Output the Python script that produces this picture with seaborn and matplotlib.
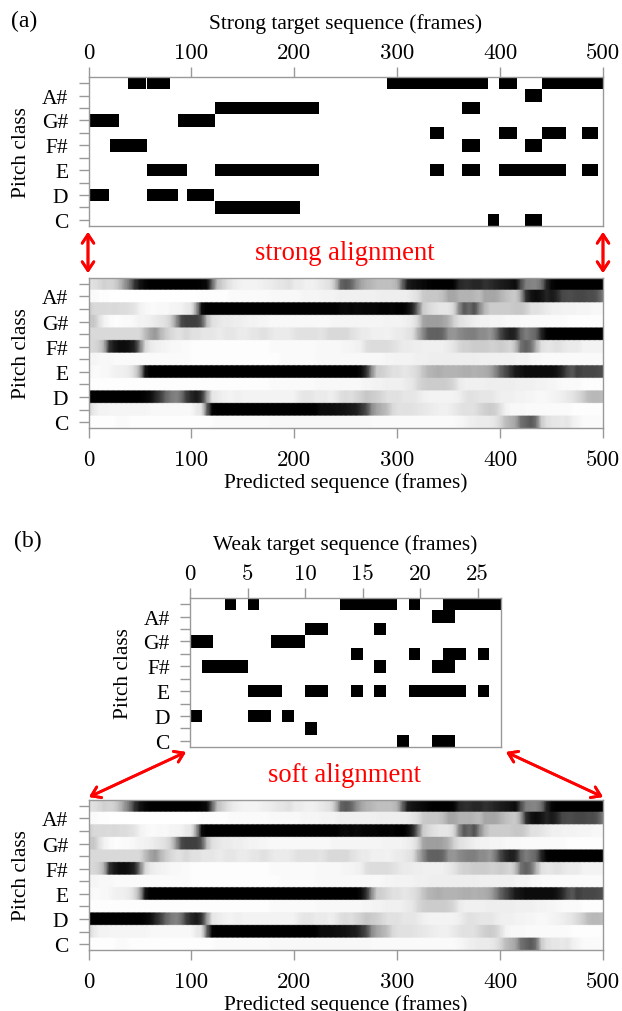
import numpy as np
import pandas as pd
import matplotlib
matplotlib.use('Agg')
import matplotlib.pyplot as plt
import seaborn as sns

# pitch classes, top row first
pitches = ['B', 'A#', 'A', 'G#', 'G', 'F#', 'F', 'E', 'D#', 'D', 'C#', 'C']
shown_pitches = ['A#', 'G#', 'F#', 'E', 'D', 'C']

# strong target: (start frame, end frame) of the active notes
strong_b = [(38, 56), (57, 79), (290, 388), (399, 416), (441, 500)]
strong_as = [(424, 441)]
strong_a = [(123, 224), (363, 380)]
strong_gs = [(0, 30), (87, 123)]
strong_g = [(332, 345), (399, 416), (441, 464), (480, 495)]
strong_fs = [(21, 57), (363, 380), (424, 441)]
strong_f = []
strong_e = [(57, 96), (123, 224), (332, 345), (363, 380), (399, 464), (480, 495)]
strong_ds = []
strong_d = [(0, 20), (57, 87), (96, 122)]
strong_cs = [(123, 206)]
strong_c = [(388, 399), (424, 441)]

# weak target: same thing, on 27 frames
weak_b = [(3, 4), (5, 6), (13, 18), (19, 20), (22, 27)]
weak_as = [(21, 23)]
weak_a = [(10, 12), (16, 17)]
weak_gs = [(0, 2), (7, 10)]
weak_g = [(14, 15), (19, 20), (22, 24), (25, 26)]
weak_fs = [(1, 5), (16, 17), (21, 23)]
weak_f = []
weak_e = [(5, 8), (10, 12), (14, 15), (16, 17), (19, 24), (25, 26)]
weak_ds = []
weak_d = [(0, 1), (5, 7), (8, 9)]
weak_cs = [(10, 11)]
weak_c = [(18, 19), (21, 23)]

strong_notes = [strong_b, strong_as, strong_a, strong_gs, strong_g, strong_fs,
                strong_f, strong_e, strong_ds, strong_d, strong_cs, strong_c]
weak_notes = [weak_b, weak_as, weak_a, weak_gs, weak_g, weak_fs,
              weak_f, weak_e, weak_ds, weak_d, weak_cs, weak_c]

# predicted darkness (percent), one value every 5 frames from 0 to 500
pred_frames = list(range(0, 505, 5))
pred_b = [12, 12, 14, 18, 16, 18, 26, 40, 55, 80,
          92, 97, 100, 100, 100, 100, 100, 100, 100, 100,
          100, 100, 98, 96, 60, 25, 18, 12, 8, 6,
          5, 5, 5, 5, 6, 7, 8, 10, 10, 12,
          8, 8, 6, 6, 6, 8, 10, 12, 25, 60,
          65, 60, 45, 35, 30, 28, 25, 25, 25, 25,
          30, 60, 88, 92, 94, 96, 98, 100, 100, 100,
          100, 98, 85, 82, 82, 85, 85, 80, 82, 85,
          88, 90, 92, 95, 70, 50, 48, 48, 55, 85,
          97, 100, 100, 100, 100, 100, 100, 100, 100, 100, 100]
pred_as = [2, 2, 1, 1, 0, 0, 0, 0, 0, 0,
           0, 0, 0, 0, 0, 0, 0, 0, 0, 0,
           0, 0, 1, 1, 1, 1, 1, 1, 2, 2,
           2, 2, 2, 2, 2, 2, 3, 3, 3, 3,
           3, 3, 4, 4, 4, 4, 5, 5, 5, 6,
           6, 6, 6, 6, 6, 6, 6, 7, 7, 7,
           7, 7, 7, 9, 12, 20, 22, 22, 22, 25,
           35, 35, 30, 30, 30, 28, 25, 35, 35, 35,
           30, 25, 22, 20, 35, 80, 92, 95, 92, 85,
           90, 85, 72, 70, 70, 72, 72, 70, 70, 65, 50]
pred_a = [18, 15, 15, 15, 14, 15, 14, 14, 12, 10,
          5, 3, 2, 2, 3, 2, 4, 4, 5, 8,
          10, 40, 95, 100, 100, 100, 100, 100, 100, 100,
          100, 100, 100, 100, 100, 100, 100, 100, 100, 100,
          100, 100, 100, 100, 100, 100, 100, 100, 100, 97,
          96, 98, 96, 97, 98, 98, 98, 99, 99, 98,
          100, 100, 95, 85, 55, 20, 15, 12, 10, 10,
          10, 15, 45, 65, 58, 68, 45, 28, 20, 20,
          20, 20, 20, 22, 22, 18, 12, 12, 10, 8,
          6, 6, 5, 5, 5, 4, 4, 4, 3, 3, 3]
pred_gs = [20, 22, 12, 5, 2, 1, 1, 2, 2, 3,
           5, 5, 6, 8, 10, 12, 18, 40, 70, 75,
           75, 75, 65, 25, 12, 10, 8, 8, 7, 7,
           6, 5, 5, 4, 4, 3, 3, 3, 3, 3,
           3, 3, 3, 3, 3, 3, 3, 3, 4, 4,
           4, 4, 4, 4, 4, 4, 4, 4, 5, 5,
           5, 5, 6, 8, 15, 35, 38, 38, 38, 35,
           30, 18, 12, 10, 8, 6, 5, 5, 4, 4,
           4, 3, 3, 3, 2, 2, 2, 2, 2, 2,
           2, 2, 2, 1, 1, 1, 1, 1, 1, 1, 1]
pred_g = [15, 15, 15, 15, 15, 15, 15, 15, 15, 15,
          15, 25, 35, 40, 28, 20, 15, 12, 12, 15,
          12, 12, 10, 10, 10, 8, 8, 10, 10, 8,
          8, 8, 10, 10, 12, 10, 8, 8, 8, 8,
          10, 12, 12, 12, 12, 10, 12, 15, 15, 15,
          15, 12, 10, 8, 8, 6, 6, 6, 5, 6,
          8, 8, 10, 12, 30, 45, 60, 62, 62, 58,
          42, 40, 45, 48, 50, 50, 45, 45, 40, 50,
          70, 82, 88, 85, 60, 50, 55, 60, 85, 98,
          100, 100, 100, 100, 100, 100, 100, 100, 100, 100, 100]
pred_fs = [15, 15, 18, 30, 80, 90, 95, 95, 92, 85,
           50, 15, 8, 6, 5, 4, 3, 3, 2, 2,
           1, 1, 1, 1, 1, 1, 1, 1, 1, 1,
           1, 1, 1, 1, 1, 1, 2, 2, 2, 2,
           2, 2, 2, 2, 2, 3, 3, 3, 3, 3,
           4, 4, 5, 6, 12, 14, 14, 14, 14, 12,
           10, 8, 8, 7, 7, 6, 6, 6, 6, 6,
           8, 10, 15, 18, 18, 20, 20, 20, 18, 18,
           20, 18, 15, 25, 55, 62, 55, 30, 12, 10,
           10, 12, 10, 8, 8, 8, 5, 5, 5, 5, 5]
pred_f = [4, 4, 3, 3, 3, 2, 2, 2, 2, 2,
          2, 2, 2, 2, 2, 2, 2, 2, 2, 2,
          1, 1, 1, 1, 1, 1, 1, 1, 1, 1,
          1, 1, 1, 1, 1, 1, 1, 1, 2, 2,
          2, 2, 2, 2, 2, 3, 3, 3, 3, 3,
          3, 3, 3, 3, 3, 3, 3, 3, 4, 4,
          5, 5, 5, 5, 6, 6, 6, 7, 7, 7,
          7, 7, 7, 7, 7, 7, 6, 6, 6, 6,
          6, 6, 6, 5, 5, 5, 3, 3, 2, 2,
          2, 2, 2, 2, 2, 2, 2, 2, 2, 2, 2]
pred_e = [3, 2, 2, 3, 3, 5, 6, 6, 8, 15,
          35, 92, 100, 100, 100, 100, 100, 100, 100, 100,
          100, 100, 100, 100, 100, 100, 100, 100, 100, 100,
          100, 100, 100, 100, 100, 100, 100, 100, 100, 100,
          100, 100, 100, 100, 100, 100, 100, 100, 100, 100,
          100, 100, 100, 95, 80, 45, 20, 18, 15, 12,
          12, 10, 10, 12, 15, 22, 28, 30, 32, 30,
          30, 30, 30, 32, 32, 30, 32, 32, 35, 45,
          60, 70, 80, 90, 92, 95, 95, 95, 95, 95,
          95, 92, 85, 72, 65, 75, 72, 72, 72, 70, 70]
pred_ds = [1, 1, 1, 1, 1, 1, 1, 1, 1, 1,
           1, 1, 1, 1, 1, 1, 1, 1, 1, 1,
           1, 1, 1, 1, 1, 1, 1, 1, 1, 1,
           1, 1, 1, 1, 1, 1, 2, 2, 2, 2,
           2, 2, 2, 2, 2, 3, 3, 3, 3, 3,
           3, 3, 3, 3, 4, 4, 5, 5, 6, 6,
           6, 6, 8, 9, 15, 18, 20, 20, 20, 20,
           18, 15, 8, 6, 6, 6, 6, 6, 7, 7,
           7, 7, 7, 6, 6, 6, 6, 5, 5, 4,
           4, 3, 2, 2, 2, 2, 1, 1, 1, 1, 1]
pred_d = [100, 100, 100, 100, 100, 100, 100, 100, 100, 100,
          100, 98, 95, 85, 75, 60, 52, 48, 55, 75,
          85, 90, 80, 40, 10, 8, 6, 5, 5, 6,
          5, 5, 5, 5, 5, 5, 5, 5, 5, 5,
          5, 8, 10, 10, 8, 8, 8, 6, 8, 12,
          14, 12, 15, 18, 22, 20, 18, 15, 12, 12,
          12, 10, 10, 10, 8, 6, 5, 5, 5, 5,
          5, 5, 6, 9, 12, 11, 10, 10, 10, 8,
          6, 6, 6, 5, 5, 4, 4, 3, 3, 3,
          4, 5, 6, 8, 10, 14, 18, 25, 28, 28, 25]
pred_cs = [15, 8, 5, 5, 4, 4, 4, 4, 4, 4,
           4, 4, 3, 3, 3, 3, 3, 3, 3, 3,
           3, 8, 10, 60, 98, 100, 100, 100, 100, 100,
           100, 100, 100, 100, 100, 100, 100, 100, 100, 100,
           100, 100, 100, 100, 100, 95, 95, 95, 94, 93,
           92, 90, 88, 80, 70, 45, 35, 30, 25, 15,
           12, 12, 12, 11, 10, 9, 8, 7, 6, 6,
           6, 8, 10, 12, 12, 12, 15, 18, 20, 18,
           12, 5, 3, 3, 3, 2, 2, 2, 2, 2,
           2, 2, 2, 2, 1, 1, 1, 1, 1, 1, 1]
pred_c = [1, 1, 1, 1, 1, 1, 2, 2, 1, 1,
          1, 1, 1, 1, 1, 1, 1, 1, 1, 1,
          1, 1, 1, 1, 1, 2, 2, 2, 2, 2,
          2, 2, 2, 2, 2, 2, 3, 3, 3, 3,
          3, 3, 3, 3, 3, 3, 3, 3, 3, 3,
          3, 3, 3, 3, 3, 2, 2, 2, 2, 2,
          2, 2, 2, 2, 2, 2, 2, 2, 2, 2,
          2, 2, 3, 4, 6, 7, 8, 8, 8, 10,
          15, 25, 30, 35, 55, 60, 65, 55, 20, 12,
          10, 10, 8, 10, 6, 4, 2, 2, 2, 2, 1]

pred_rows = [pred_b, pred_as, pred_a, pred_gs, pred_g, pred_fs,
             pred_f, pred_e, pred_ds, pred_d, pred_cs, pred_c]


def notes_to_df(notes, n_frames):
    roll = np.zeros((len(pitches), n_frames))
    for i, row in enumerate(notes):
        for start, end in row:
            roll[i, start:end] = 1
    return pd.DataFrame(roll, index=pitches)


# figure pixels -> axes rectangle
W, H = 622, 1012
def make_ax(x0, x1, y0, y1):
    return fig.add_axes([x0 / W, 1 - y1 / H, (x1 - x0) / W, (y1 - y0) / H])


def style_ax(ax, xticks, xlabels, yticks, top=False, xlabel=''):
    ax.set_xticks(xticks)
    ax.set_xticklabels(xlabels, rotation=0, fontsize=16.5, family='cmr10')
    ax.set_yticks(yticks)
    labels = [p if p in shown_pitches else '' for p in pitches]
    ax.set_yticklabels(labels, rotation=0, fontsize=15.5)
    ax.tick_params(axis='x', length=7.5, width=1, color='#999999', labelcolor='black',
                   pad=3 if top else 8,
                   top=top, bottom=not top, labeltop=top, labelbottom=not top)
    ax.tick_params(axis='y', length=7.5, width=1, color='#999999', labelcolor='black',
                   pad=7, left=True)
    ax.set_xlabel(xlabel, fontsize=15.4, color='black')
    ax.set_ylabel('Pitch class', fontsize=15.4, color='black')
    box = ax.get_position()
    ax_w, ax_h = box.width * W, box.height * H
    ax.yaxis.set_label_coords(-57 / ax_w, 0.5)
    if top:
        ax.xaxis.set_label_position('top')
        ax.xaxis.set_label_coords(0.5, 1 + 49 / ax_h)
    else:
        ax.xaxis.set_label_coords(0.5, -44 / ax_h)
    for s in ax.spines.values():
        s.set_visible(True)
        s.set_color('#999999')
        s.set_linewidth(1)


def draw_target(ax, notes, n_frames, xvals, xlabel):
    sns.heatmap(notes_to_df(notes, n_frames), ax=ax, cmap='gray_r', vmin=0, vmax=1,
                cbar=False, xticklabels=False, yticklabels=False)
    style_ax(ax, xvals, [str(v) for v in xvals], np.arange(12) + 0.5, top=True, xlabel=xlabel)
    ax.set_xlim(0, n_frames)
    ax.set_ylim(12, 0)


def draw_predicted(ax):
    # each row repeated so the gouraud shading only blends along the time axis
    rep = 12
    values = np.repeat(np.array(pred_rows, dtype=float) / 100, rep, axis=0)
    sns.heatmap(values, ax=ax, cmap='gray_r', vmin=0, vmax=1, cbar=False,
                xticklabels=False, yticklabels=False, shading='gouraud')
    xvals = [0, 100, 200, 300, 400, 500]
    style_ax(ax, [pred_frames.index(v) for v in xvals], [str(v) for v in xvals],
             (np.arange(12) + 0.5) * rep - 0.5, xlabel='Predicted sequence (frames)')
    ax.set_xlim(0, len(pred_frames) - 1)
    ax.set_ylim(12 * rep - 1, 0)


def arrow(x0, y0, x1, y1):
    fig.add_artist(plt.annotate('', xy=(x1 / W, 1 - y1 / H), xytext=(x0 / W, 1 - y0 / H),
                                xycoords='figure fraction', textcoords='figure fraction',
                                arrowprops=dict(arrowstyle='<->,head_length=0.45,head_width=0.3',
                                                color='#ff0000', lw=2,
                                                mutation_scale=14, shrinkA=0, shrinkB=0)))


sns.set_style('ticks')
plt.rcParams['font.family'] = ['Liberation Serif', 'DejaVu Serif']
plt.rcParams['axes.unicode_minus'] = False
plt.rcParams['text.color'] = 'black'

fig = plt.figure(figsize=(W / 100, H / 100), dpi=100)

ax1 = make_ax(88.5, 603, 78, 227)
draw_target(ax1, strong_notes, 500, [0, 100, 200, 300, 400, 500], 'Strong target sequence (frames)')
ax2 = make_ax(88.5, 603, 279, 429)
draw_predicted(ax2)
ax3 = make_ax(190, 500.5, 599, 748)
draw_target(ax3, weak_notes, 27, [0, 5, 10, 15, 20, 25], 'Weak target sequence (frames)')
ax4 = make_ax(88.5, 603, 801, 951)
draw_predicted(ax4)

fig.text(11 / W, 1 - 21 / H, '(a)', fontsize=17, va='center')
fig.text(14 / W, 1 - 541 / H, '(b)', fontsize=17, va='center')
fig.text(345 / W, 1 - 254 / H, 'strong alignment', fontsize=19.2, color='#ff0000', ha='center', va='center')
fig.text(345 / W, 1 - 776 / H, 'soft alignment', fontsize=19.2, color='#ff0000', ha='center', va='center')

arrow(88, 233, 88, 274)
arrow(603, 233, 603, 274)
arrow(89, 798, 186, 753)
arrow(603, 798, 506, 753)

plt.savefig('out.png', dpi=100)
